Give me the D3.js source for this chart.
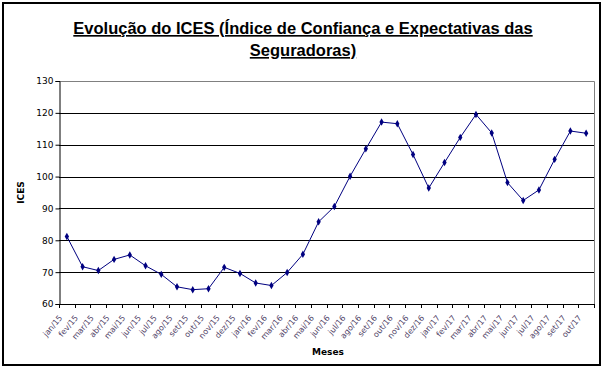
<!DOCTYPE html>
<html>
<head>
<meta charset="utf-8">
<script src="https://cdn.jsdelivr.net/npm/d3@7"></script>
<style>
  body { margin: 0; background: #fff; }
</style>
</head>
<body>
<div id="chart"></div>
<script>
const months = [
  "jan/15","fev/15","mar/15","abr/15","mai/15","jun/15","jul/15","ago/15","set/15","out/15","nov/15","dez/15",
  "jan/16","fev/16","mar/16","abr/16","mai/16","jun/16","jul/16","ago/16","set/16","out/16","nov/16","dez/16",
  "jan/17","fev/17","mar/17","abr/17","mai/17","jun/17","jul/17","ago/17","set/17","out/17"
];
const ices = [
  81.2, 71.7, 70.5, 74.0, 75.4, 72.0, 69.3, 65.4, 64.5, 64.8, 71.5, 69.6,
  66.6, 65.8, 69.9, 75.6, 85.8, 90.6, 100.1, 108.7, 117.1, 116.6, 106.9, 96.4,
  104.4, 112.3, 119.5, 113.7, 98.1, 92.5, 95.8, 105.4, 114.3, 113.6
];
const yTicks = [60, 70, 80, 90, 100, 110, 120, 130];
const titleLines = [
  "Evolução do ICES (Índice de Confiança e Expectativas das",
  "Seguradoras)"
];

const width = 605, height = 369;
const plot = { left: 59, right: 594, top: 81, bottom: 304 };

const svg = d3.select("#chart").append("svg")
  .attr("width", width)
  .attr("height", height);

svg.append("rect")
  .attr("width", width).attr("height", height)
  .attr("fill", "#fff");

// outer frame
svg.append("rect")
  .attr("x", 3).attr("y", 3)
  .attr("width", 597).attr("height", 362)
  .attr("fill", "none")
  .attr("stroke", "#000")
  .attr("stroke-width", 2);

const x = d3.scaleBand()
  .domain(months)
  .range([plot.left, plot.right])
  .padding(0);

const y = d3.scaleLinear()
  .domain([60, 130])
  .range([plot.bottom, plot.top]);

// gridlines
svg.append("g")
  .selectAll("line")
  .data(yTicks.filter(t => t > 60 && t < 130))
  .join("line")
  .attr("x1", plot.left).attr("x2", plot.right)
  .attr("y1", d => Math.round(y(d)) + 0.5)
  .attr("y2", d => Math.round(y(d)) + 0.5)
  .attr("stroke", "#000")
  .attr("stroke-width", 1);

// plot border (top/right gray)
svg.append("path")
  .attr("d", `M${plot.left},${plot.top + 0.5}H${plot.right + 0.5}V${plot.bottom}`)
  .attr("fill", "none")
  .attr("stroke", "#808080")
  .attr("stroke-width", 1);

// y axis
const yAxis = d3.axisLeft(y).tickValues(yTicks).tickSize(4).tickPadding(2);
const gy = svg.append("g")
  .attr("transform", `translate(${plot.left + 0.5},0)`)
  .call(yAxis);
gy.selectAll("text")
  .attr("font-family", "DejaVu Sans, Verdana, sans-serif")
  .attr("font-size", "9px")
  .attr("fill", "#000");
gy.select(".domain").attr("stroke", "#000");
gy.selectAll(".tick line").attr("stroke", "#000");

// x axis: ticks at category boundaries
const gx = svg.append("g");
gx.append("line")
  .attr("x1", plot.left).attr("x2", plot.right + 1)
  .attr("y1", plot.bottom + 0.5).attr("y2", plot.bottom + 0.5)
  .attr("stroke", "#000");
gx.selectAll("line.tk")
  .data(months.concat(["end"]))
  .join("line")
  .attr("class", "tk")
  .attr("x1", (d, i) => Math.round(plot.left + i * x.bandwidth()) + 0.5)
  .attr("x2", (d, i) => Math.round(plot.left + i * x.bandwidth()) + 0.5)
  .attr("y1", plot.bottom)
  .attr("y2", plot.bottom + 4)
  .attr("stroke", "#000");

gx.selectAll("text")
  .data(months)
  .join("text")
  .attr("transform", d => `translate(${x(d) + x.bandwidth() / 2 - 4},${plot.bottom + 14}) rotate(-50)`)
  .attr("text-anchor", "end")
  .attr("font-family", "DejaVu Sans, Verdana, sans-serif")
  .attr("font-size", "8px")
  .attr("fill", "#4f4266")
  .text(d => d);

// axis titles
svg.append("text")
  .attr("transform", `translate(23.5,${(plot.top + plot.bottom) / 2}) rotate(-90)`)
  .attr("text-anchor", "middle")
  .attr("font-family", "DejaVu Sans, Verdana, sans-serif")
  .attr("font-size", "9px")
  .attr("font-weight", "bold")
  .text("ICES");

svg.append("text")
  .attr("x", 328)
  .attr("y", 355)
  .attr("text-anchor", "middle")
  .attr("font-family", "DejaVu Sans, Verdana, sans-serif")
  .attr("font-size", "9px")
  .attr("font-weight", "bold")
  .text("Meses");

// title
svg.append("g")
  .selectAll("text")
  .data(titleLines)
  .join("text")
  .attr("x", 303)
  .attr("y", (d, i) => 34 + i * 22)
  .attr("text-anchor", "middle")
  .attr("font-family", "Liberation Sans, Arial, sans-serif")
  .attr("font-size", "16.5px")
  .attr("font-weight", "bold")
  .attr("text-decoration", "underline")
  .text(d => d);

// series
const pts = months.map((m, i) => ({ m, v: ices[i] }));
const line = d3.line()
  .x(d => x(d.m) + x.bandwidth() / 2)
  .y(d => y(d.v));

svg.append("path")
  .datum(pts)
  .attr("d", line)
  .attr("fill", "none")
  .attr("stroke", "#000080")
  .attr("stroke-width", 1);

svg.append("g")
  .selectAll("path")
  .data(pts)
  .join("path")
  .attr("transform", d => `translate(${x(d.m) + x.bandwidth() / 2},${y(d.v)})`)
  .attr("d", d3.symbol(d3.symbolDiamond, 16))
  .attr("fill", "#000080");
</script>
</body>
</html>
